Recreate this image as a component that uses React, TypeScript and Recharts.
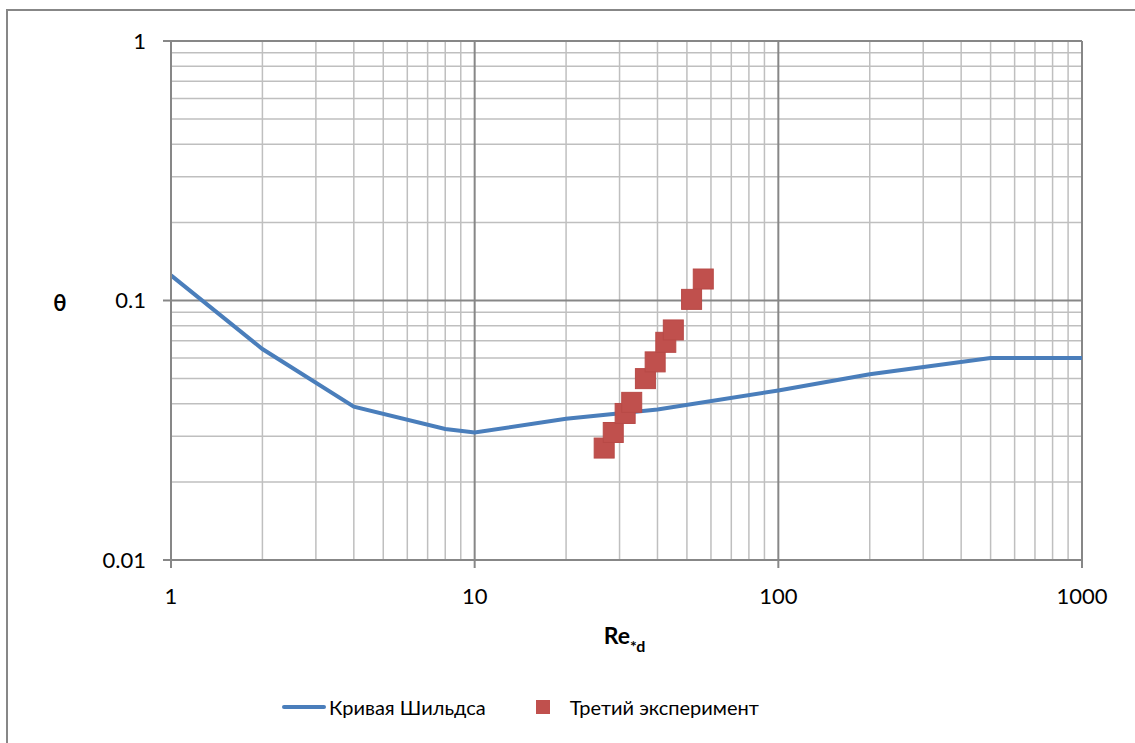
import React from "react";
import { ComposedChart, Line, Scatter, XAxis, YAxis, ReferenceLine, Legend } from "recharts";

const curveRe = [1, 2, 4, 8, 10, 20, 40, 100, 200, 500, 1000];
const curveTheta = [0.125, 0.065, 0.039, 0.032, 0.031, 0.035, 0.038, 0.045, 0.052, 0.06, 0.06];

const expRe = [26.7, 28.6, 31.3, 32.9, 36.5, 39.3, 42.6, 45.1, 51.8, 56.6];
const expTheta = [0.027, 0.031, 0.0367, 0.0405, 0.05, 0.058, 0.069, 0.077, 0.101, 0.121];

const xTicks = [1, 10, 100, 1000];
const yTicks = [0.01, 0.1, 1];
const xMinor = [2, 3, 4, 5, 6, 7, 8, 9, 20, 30, 40, 50, 60, 70, 80, 90, 200, 300, 400, 500, 600, 700, 800, 900];
const yMinor = [0.02, 0.03, 0.04, 0.05, 0.06, 0.07, 0.08, 0.09, 0.2, 0.3, 0.4, 0.5, 0.6, 0.7, 0.8, 0.9];

const curve = curveRe.map((x, i) => ({ x, y: curveTheta[i] }));
const experiment = expRe.map((x, i) => ({ x, y: expTheta[i] }));

const FONT = "Lato, 'Noto Sans', sans-serif";
const MAJOR = "#878787";
const MINOR = "#BFBFBF";
const BLUE = "#4A7EBB";
const RED = "#C0504D";

const Square = (props: any) => (
  <rect x={props.cx - 10} y={props.cy - 10} width={20} height={20} fill={RED} stroke="#B84A47" strokeWidth={1} />
);

const LegendContent = () => (
  <div style={{ display: "flex", alignItems: "center", fontFamily: FONT, fontSize: 20, color: "#000", whiteSpace: "nowrap" }}>
    <span style={{ width: 44, height: 4, background: BLUE, borderRadius: 2, display: "inline-block", marginRight: 3 }} />
    <span>Кривая Шильдса</span>
    <span style={{ width: 14, height: 14, background: RED, display: "inline-block", marginLeft: 50, marginRight: 20 }} />
    <span>Третий эксперимент</span>
  </div>
);

export default function App() {
  return (
    <div style={{ position: "absolute", left: 0, top: 0, width: 1135, height: 743, overflow: "hidden", background: "#fff" }}>
      <div style={{ position: "absolute", left: 6, top: 9, width: 1200, height: 800, border: `2px solid ${MAJOR}` }} />
      <div style={{ position: "absolute", left: 0, top: 0 }}>
        <ComposedChart width={1135} height={743} margin={{ top: 41, right: 53, left: 71, bottom: 123 }} style={{ fontFamily: FONT }}>
          <XAxis
            type="number"
            dataKey="x"
            scale="log"
            domain={[1, 1000]}
            ticks={xTicks}
            allowDataOverflow
            height={60}
            tickSize={8}
            tickMargin={20}
            tick={{ fontSize: 22, fill: "#000" }}
            tickLine={{ stroke: MAJOR, strokeWidth: 2 }}
            axisLine={{ stroke: MAJOR, strokeWidth: 2 }}
            label={({ viewBox }: any) => (
              <text x={viewBox.x + viewBox.width / 2 - 2} y={viewBox.y + 84} textAnchor="middle" fontWeight="bold" fontSize={23} fill="#000">
                Re
                <tspan fontSize={16} dy={8}>*d</tspan>
              </text>
            )}
          />
          <YAxis
            type="number"
            dataKey="y"
            scale="log"
            domain={[0.01, 1]}
            ticks={yTicks}
            allowDataOverflow
            width={100}
            tickSize={8}
            tickMargin={17}
            tickFormatter={(v) => String(v)}
            tick={{ fontSize: 22, fill: "#000" }}
            tickLine={{ stroke: MAJOR, strokeWidth: 2 }}
            axisLine={{ stroke: MAJOR, strokeWidth: 2 }}
            label={({ viewBox }: any) => (
              <text x={60} y={viewBox.y + viewBox.height / 2 + 10} textAnchor="middle" fontWeight="bold" fontSize={22} fill="#000">
                θ
              </text>
            )}
          />
          {xMinor.map((v) => (
            <ReferenceLine key={"xm" + v} x={v} stroke={MINOR} strokeWidth={1.5} />
          ))}
          {yMinor.map((v) => (
            <ReferenceLine key={"ym" + v} y={v} stroke={MINOR} strokeWidth={1.5} />
          ))}
          {xTicks.slice(1).map((v) => (
            <ReferenceLine key={"xM" + v} x={v} stroke={MAJOR} strokeWidth={2} />
          ))}
          {yTicks.slice(1).map((v) => (
            <ReferenceLine key={"yM" + v} y={v} stroke={MAJOR} strokeWidth={2} />
          ))}
          <Legend
            verticalAlign="middle"
            content={<LegendContent />}
            wrapperStyle={{ position: "absolute", left: 282, top: 695, width: "auto" }}
          />
          <Line data={curve} dataKey="y" name="Кривая Шильдса" type="linear" stroke={BLUE} strokeWidth={4} dot={false} isAnimationActive={false} />
          <Scatter data={experiment} dataKey="y" name="Третий эксперимент" fill={RED} shape={<Square />} isAnimationActive={false} />
        </ComposedChart>
      </div>
    </div>
  );
}
